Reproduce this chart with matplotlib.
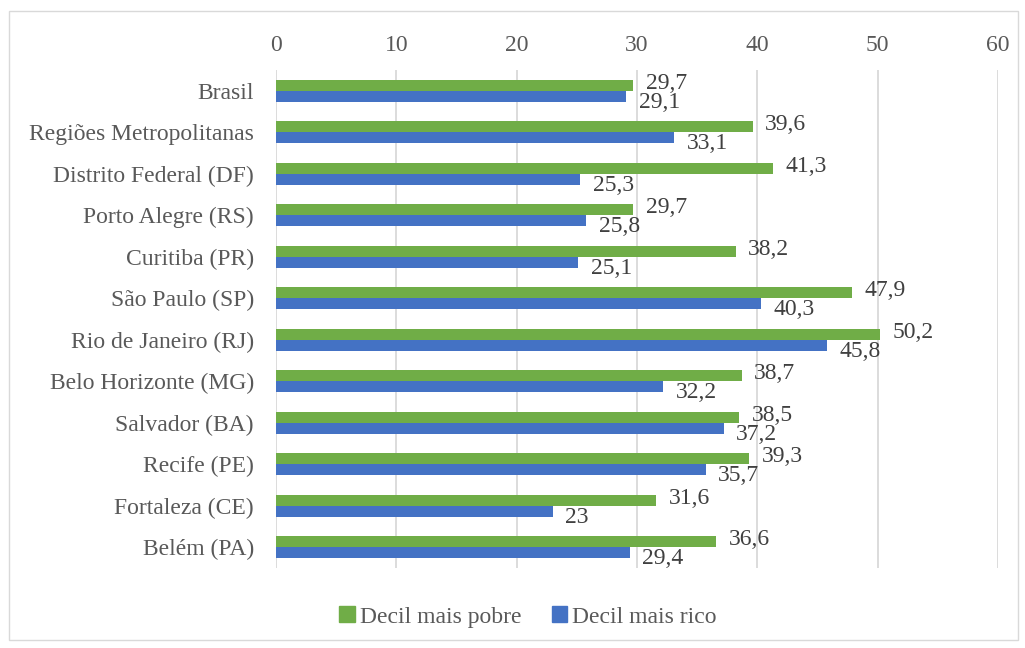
import matplotlib.pyplot as plt
from matplotlib.patches import Patch, Rectangle
import numpy as np

categories = ['Brasil', 'Regiões Metropolitanas', 'Distrito Federal (DF)', 'Porto Alegre (RS)',
              'Curitiba (PR)', 'São Paulo (SP)', 'Rio de Janeiro (RJ)', 'Belo Horizonte (MG)',
              'Salvador (BA)', 'Recife (PE)', 'Fortaleza (CE)', 'Belém (PA)']
pobre = [29.7, 39.6, 41.3, 29.7, 38.2, 47.9, 50.2, 38.7, 38.5, 39.3, 31.6, 36.6]
rico = [29.1, 33.1, 25.3, 25.8, 25.1, 40.3, 45.8, 32.2, 37.2, 35.7, 23, 29.4]
pobre_label = ['29,7', '39,6', '41,3', '29,7', '38,2', '47,9', '50,2', '38,7', '38,5', '39,3', '31,6', '36,6']
rico_label = ['29,1', '33,1', '25,3', '25,8', '25,1', '40,3', '45,8', '32,2', '37,2', '35,7', '23', '29,4']

green = '#70AD47'
blue = '#4472C4'
text_col = '#595959'
fs = 17

plt.rcParams['font.family'] = ['Liberation Serif', 'DejaVu Serif']

fig = plt.figure(figsize=(10.25, 6.48), dpi=100)
ax = fig.add_axes([276 / 1025, 1 - 568 / 648, (998 - 276) / 1025, (568 - 70) / 648])

y = np.arange(len(categories))
h = 0.265
ax.barh(y - h / 2, pobre, height=h, color=green, label='Decil mais pobre', zorder=3)
ax.barh(y + h / 2, rico, height=h, color=blue, label='Decil mais rico', zorder=3)

for i in range(len(categories)):
    ax.annotate(pobre_label[i], (pobre[i], y[i] - h / 2), xytext=(9, 1.5), textcoords='offset points',
                va='center', ha='left', fontsize=fs, color='#404040', zorder=4)
    ax.annotate(rico_label[i], (rico[i], y[i] + h / 2), xytext=(9, -4.5), textcoords='offset points',
                va='center', ha='left', fontsize=fs, color='#404040', zorder=4)

ax.set_xlim(0, 60)
ax.set_ylim(len(categories) - 0.5, -0.5)
ax.set_xticks(range(0, 61, 10))
ax.set_yticks(y)
ax.set_yticklabels(categories)
ax.xaxis.tick_top()
ax.tick_params(axis='both', length=0, labelsize=fs, labelcolor=text_col)
ax.tick_params(axis='x', pad=10)
ax.tick_params(axis='y', pad=16)
ax.grid(axis='x', color='#D9D9D9', linewidth=1.3, zorder=0)
for s in ax.spines.values():
    s.set_visible(False)

handles = [Patch(color=green, label='Decil mais pobre'), Patch(color=blue, label='Decil mais rico')]
fig.legend(handles=handles, loc='center', bbox_to_anchor=(0.515, 1 - 617 / 648), ncol=2, frameon=False,
           fontsize=fs, labelcolor=text_col, handlelength=0.65, handleheight=0.65, handletextpad=0.2,
           columnspacing=1.3)

fig.patches.append(Rectangle((9 / 1025, 1 - 640 / 648), 1009 / 1025, 629 / 648, transform=fig.transFigure,
                             fill=False, edgecolor='#D9D9D9', linewidth=1))

fig.savefig('out.png', dpi=100)
